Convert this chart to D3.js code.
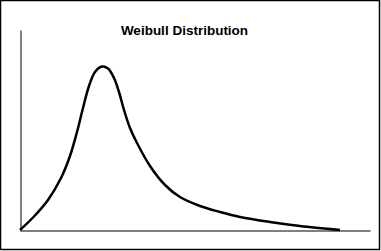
<!DOCTYPE html>
<html>
<head>
<meta charset="utf-8">
<script src="https://cdn.jsdelivr.net/npm/d3@7/dist/d3.min.js"></script>
<style>
html,body{margin:0;padding:0;background:#fff;}
svg{display:block;}
</style>
</head>
<body>
<script>
const title = "Weibull Distribution";
const xValues = [0, 1.4, 2.8, 4.1, 5.0, 5.7, 6.3, 6.9, 7.5, 8.2, 8.8, 9.4, 9.9, 10.4, 11.0, 11.7, 13.0, 14.5, 16.0, 18.0, 20.0, 22.0, 25.0, 28.0, 32.0];
const yValues = [0, 1.35, 3.0, 5.2, 7.4, 9.8, 12.2, 14.4, 15.8, 16.35, 16.15, 15.2, 13.8, 12.0, 10.2, 8.7, 6.4, 4.5, 3.3, 2.4, 1.8, 1.3, 0.8, 0.4, 0.0];
const xDomain = [0, 35];
const yDomain = [0, 20];

const W = 381, H = 251;
const svg = d3.select("body").append("svg").attr("width", W).attr("height", H);
svg.append("rect").attr("x", 0.5).attr("y", 0.5).attr("width", 379).attr("height", 249)
  .attr("fill", "#fff").attr("stroke", "#000").attr("stroke-width", 1.5);

const x = d3.scaleLinear().domain(xDomain).range([20, 370]);
const y = d3.scaleLinear().domain(yDomain).range([230, 30]);

svg.append("g").attr("transform", "translate(0,230.5)")
  .call(d3.axisBottom(x).ticks(0).tickSize(0).tickSizeOuter(0))
  .call(g => g.selectAll("text").remove())
  .call(g => g.select(".domain").attr("stroke", "#000"));
svg.append("g").attr("transform", "translate(20.5,0)")
  .call(d3.axisLeft(y).ticks(0).tickSize(0).tickSizeOuter(0))
  .call(g => g.selectAll("text").remove())
  .call(g => g.select(".domain").attr("stroke", "#000"));

const data = xValues.map((v, i) => [v, yValues[i]]);
const line = d3.line().x(d => x(d[0])).y(d => y(d[1])).curve(d3.curveCatmullRom.alpha(0.5));
svg.append("path").datum(data).attr("d", line)
  .attr("fill", "none").attr("stroke", "#000").attr("stroke-width", 2.5)
  .attr("stroke-linejoin", "round").attr("stroke-linecap", "butt");

svg.append("text").attr("x", 184.5).attr("y", 34.5).attr("text-anchor", "middle")
  .attr("font-family", "Liberation Sans, Arial, sans-serif").attr("font-weight", "bold")
  .attr("font-size", 13.5).attr("fill", "#000").text(title);
</script>
</body>
</html>
